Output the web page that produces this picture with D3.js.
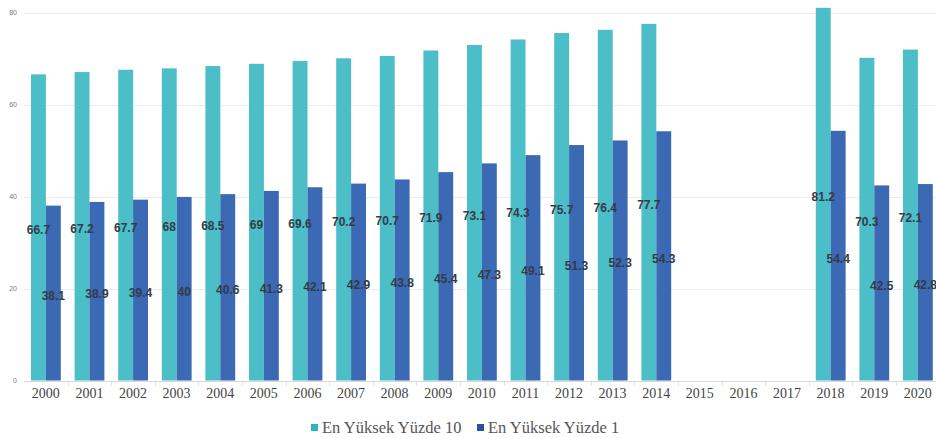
<!DOCTYPE html>
<html>
<head>
<meta charset="utf-8">
<script src="https://cdn.jsdelivr.net/npm/d3@7"></script>
<style>
  body { margin: 0; background: #fff; }
  svg { display: block; }
</style>
</head>
<body>
<svg id="chart"></svg>
<script>
var width = 936,
    height = 438;

// data (2015-2017 have no values)
var years = ['2000','2001','2002','2003','2004','2005','2006','2007','2008','2009','2010',
             '2011','2012','2013','2014','2015','2016','2017','2018','2019','2020'];
var top10 = [66.7,67.2,67.7,68,68.5,69,69.6,70.2,70.7,71.9,73.1,74.3,75.7,76.4,77.7,null,null,null,81.2,70.3,72.1];
var top1  = [38.1,38.9,39.4,40,40.6,41.3,42.1,42.9,43.8,45.4,47.3,49.1,51.3,52.3,54.3,null,null,null,54.4,42.5,42.8];
var seriesNames = ['En Yüksek Yüzde 10', 'En Yüksek Yüzde 1'];
var yTicks = [0, 20, 40, 60, 80];

var barColors = ['#4bbec8', '#3b69b4'];
var legendColors = ['#2bb4c0', '#2a50a2'];

var svg = d3.select('#chart')
    .attr('width', width)
    .attr('height', height);

var x = d3.scaleBand()
    .domain(years)
    .range([24, 24 + 21 * 43.6])
    .padding(0);

var x1 = d3.scaleBand()
    .domain([0, 1])
    .range([7, 7 + 29.8]);

var y = d3.scaleLinear()
    .domain([0, 80])
    .range([380.5, 13.3]);

// gridlines + y labels
svg.append('g')
  .selectAll('line')
  .data(yTicks)
  .enter().append('line')
    .attr('x1', 24)
    .attr('x2', width)
    .attr('y1', function(d) { return Math.round(y(d)) + 0.5; })
    .attr('y2', function(d) { return Math.round(y(d)) + 0.5; })
    .attr('stroke', function(d) { return d === 0 ? '#d9d9d9' : '#ececec'; })
    .attr('stroke-width', 1);

svg.append('g')
  .selectAll('text')
  .data(yTicks)
  .enter().append('text')
    .text(function(d) { return d; })
    .attr('x', 17)
    .attr('y', function(d) { return y(d) + 2; })
    .attr('font-size', 7)
    .attr('font-family', 'Arial, Liberation Sans, sans-serif')
    .attr('fill', '#777')
    .style('text-anchor', 'end');

// x axis labels
var xAxis = d3.axisBottom(x).tickSize(0).tickPadding(0);
var gx = svg.append('g')
    .attr('transform', 'translate(0,' + 380.5 + ')')
    .call(xAxis);
gx.select('.domain').remove();
gx.selectAll('text')
    .attr('y', 17)
    .attr('dy', 0)
    .attr('font-size', 14)
    .attr('font-family', 'Liberation Serif, Times New Roman, serif')
    .attr('fill', '#444');

// small ticks on the category boundaries
svg.append('g')
  .selectAll('line')
  .data(years.slice(1))
  .enter().append('line')
    .attr('x1', function(d) { return Math.round(x(d)) + 0.5; })
    .attr('x2', function(d) { return Math.round(x(d)) + 0.5; })
    .attr('y1', 380.5)
    .attr('y2', 386)
    .attr('stroke', '#e0e0e0');

// bars
var seriesData = [top10, top1];
var groups = svg.append('g')
  .selectAll('g')
  .data(years)
  .enter().append('g')
    .attr('transform', function(d) { return 'translate(' + x(d) + ',0)'; });

var bars = groups.selectAll('rect')
  .data(function(d, i) {
    return seriesData.map(function(s, k) { return { k: k, v: s[i] }; })
      .filter(function(e) { return e.v != null; });
  })
  .enter();

bars.append('rect')
    .attr('x', function(d) { return x1(d.k); })
    .attr('y', function(d) { return y(d.v); })
    .attr('width', x1.bandwidth())
    .attr('height', function(d) { return y(0) - y(d.v); })
    .attr('fill', function(d) { return barColors[d.k]; });

bars.append('text')
    .text(function(d) { return d.v; })
    .attr('x', function(d) { return x1(d.k) + x1.bandwidth() / 2; })
    .attr('y', function(d) { return y(d.v / 2) + 7; })
    .attr('font-size', 12)
    .attr('font-weight', 'bold')
    .attr('font-family', 'Arial, Liberation Sans, sans-serif')
    .attr('fill', '#333b48')
    .style('text-anchor', 'middle');

// legend
var legend = svg.append('g');
var legendX = [311, 477];
seriesNames.forEach(function(name, k) {
  legend.append('rect')
    .attr('x', legendX[k])
    .attr('y', 424)
    .attr('width', 7)
    .attr('height', 7)
    .attr('fill', legendColors[k]);
  legend.append('text')
    .text(name)
    .attr('x', legendX[k] + 11)
    .attr('y', 433)
    .attr('font-size', 16.5)
    .attr('font-family', 'Liberation Serif, Times New Roman, serif')
    .attr('fill', '#555');
});
</script>
</body>
</html>
